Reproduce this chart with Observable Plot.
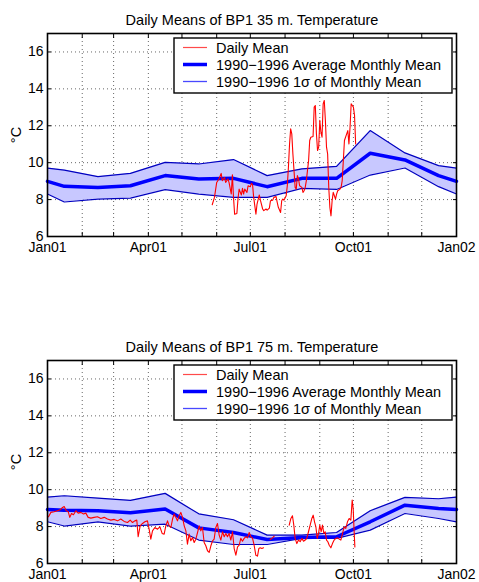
<!DOCTYPE html>
<html><head><meta charset="utf-8">
<script src="https://cdn.jsdelivr.net/npm/d3@7"></script>
<script src="https://cdn.jsdelivr.net/npm/@observablehq/plot@0.6"></script>
<style>
body{margin:0;background:#fff;font-family:"Liberation Sans",Arial,sans-serif;}
#wrap{width:479px;height:582px;}
svg{display:block}
</style></head><body><div id="wrap"></div>
<script>
const titles = ["Daily Means of BP1 35 m. Temperature", "Daily Means of BP1 75 m. Temperature"];
const yLabel = "°C";
const legendLabels = ["Daily Mean", "1990\u22121996 Average Monthly Mean", "1990\u22121996 1\u03c3 of Monthly Mean"];
const xLabelDates = ["2001-01-01", "2001-04-01", "2001-07-01", "2001-10-01", "2002-01-01"];
const xLabelTexts = ["Jan01", "Apr01", "Jul01", "Oct01", "Jan02"];
const yTicks = [6, 8, 10, 12, 14, 16];

// climatology nodes: Jan01, mid-month Jan..Dec, Jan02
const climDates = ["2001-01-01","2001-01-16","2001-02-15","2001-03-16","2001-04-16","2001-05-16","2001-06-16",
  "2001-07-16","2001-08-16","2001-09-16","2001-10-16","2001-11-16","2001-12-16","2002-01-01"];
const mean35  = [8.99, 8.72, 8.66, 8.75, 9.30, 9.12, 9.15, 8.70, 9.15, 9.15, 10.51, 10.15, 9.30, 8.99];
const upper35 = [9.71, 9.60, 9.24, 9.42, 10.02, 9.93, 10.17, 9.30, 9.66, 9.80, 11.74, 10.53, 9.84, 9.71];
const lower35 = [8.30, 7.87, 8.03, 8.08, 8.54, 8.30, 8.12, 8.12, 8.61, 8.55, 9.33, 9.71, 8.70, 8.30];
const mean75  = [8.93, 8.89, 8.86, 8.75, 8.95, 7.93, 7.68, 7.30, 7.41, 7.45, 8.26, 9.16, 8.98, 8.93];
const upper75 = [9.60, 9.67, 9.54, 9.42, 9.80, 8.69, 8.37, 7.54, 7.54, 7.68, 8.86, 9.58, 9.51, 9.60];
const lower75 = [8.26, 8.03, 8.26, 8.03, 8.13, 7.27, 7.03, 7.03, 7.36, 7.36, 7.81, 8.71, 8.44, 8.26];

// daily means: [day of year (0 = Jan01), temperature]
const daily35 = [
 [147,7.72],[149,8.12],[151,8.93],[153,9.12],[155,9.42],[156,9.03],[158,9.20],[159,8.93],[161,9.12],[162,8.93],
 [164,8.30],[165,9.35],[166,8.12],[167,7.21],[169,7.25],[170,8.03],[171,8.57],[173,8.25],[174,8.61],[175,8.30],
 [176,8.57],[178,8.39],[179,8.75],[181,8.70],[182,8.88],[183,8.81],[184,8.12],[186,7.21],[187,7.76],[189,8.25],
 [190,7.97],[192,7.49],[193,7.40],[195,7.49],[196,7.43],[198,7.54],[199,7.94],[201,7.97],[202,8.12],[204,8.16],
 [205,7.85],[206,7.58],[208,7.30],[209,7.94],[210,8.03],[211,7.97],[213,8.21],[214,8.75],[215,9.75],[216,11.00],
 [217,11.83],[218,11.56],[219,10.47],[221,8.66],[222,8.57],[223,9.30],[224,9.12],[225,8.75],[227,8.66],[228,8.39],
 [229,8.48],[230,8.66],[231,9.03],[233,10.11],[234,11.20],[235,11.38],[237,11.42],[238,13.01],[239,13.10],[240,11.56],
 [241,10.66],[242,10.84],[243,12.29],[244,11.65],[245,11.38],[246,13.19],[247,13.37],[248,12.29],[249,10.84],[250,10.47],
 [251,8.66],[252,7.58],[253,7.12],[254,7.94],[255,8.39],[257,8.03],[258,8.30],[259,8.48],[261,8.57],[262,8.66],
 [263,9.03],[264,10.11],[265,11.20],[267,11.56],[268,11.74],[269,11.02],[270,11.92],[271,13.19],[273,13.01],[274,12.56],
 [275,11.02]
];
const daily75 = [
 [0.9,8.53],[3.0,8.77],[5.9,8.80],[8.9,8.86],[11.3,8.91],[13.4,9.04],[14.9,9.09],[16.7,8.86],[18.4,8.82],[19.9,8.50],
 [21.4,8.71],[23.2,8.64],[25.3,8.86],[27.4,8.73],[29.7,8.77],[32.1,8.68],[34.2,8.73],[36.3,8.50],[38.7,8.46],[41.6,8.50],
 [44.6,8.53],[47.6,8.44],[50.6,8.50],[53.5,8.41],[56.5,8.35],[59.5,8.39],[62.5,8.31],[65.4,8.41],[68.4,8.28],[71.4,8.22],
 [73.8,8.35],[75.9,8.22],[77.9,8.31],[79.7,8.35],[80.9,7.45],[82.7,8.04],[84.8,8.17],[86.9,8.26],[89.2,8.31],[90.7,7.86],
 [92.2,7.32],[93.7,7.77],[95.8,7.95],[98.2,7.86],[100.3,7.99],[102.3,7.63],[104.1,7.59],[105.6,8.04],[107.1,8.31],[108.6,8.04],
 [110.1,7.95],[111.6,8.41],[113.0,8.68],[114.5,8.50],[116.0,8.31],[117.5,8.59],[119.0,8.77],[120.5,8.50],[122.0,8.04],[123.5,7.77],
 [124.9,7.05],[126.4,7.59],[127.9,7.23],[129.4,7.41],[130.9,7.14],[132.4,7.32],[133.9,7.68],[135.4,8.04],[136.8,7.77],[138.3,7.95],
 [139.8,7.14],[141.3,6.96],[142.8,6.69],[144.3,6.60],[145.8,6.96],[147.3,7.23],[148.7,7.32],[150.2,7.95],[151.7,8.17],[153.2,7.54],
 [154.7,7.27],[156.2,7.72],[157.7,7.45],[159.2,7.63],[160.6,7.45],[162.1,7.63],[163.6,7.27],[165.1,7.72],[166.6,6.81],[168.1,6.45],
 [169.6,6.90],[171.1,6.99],[172.5,7.36],[174.0,7.21],[175.5,7.36],[177.0,7.45],[178.5,7.39],[180.0,7.68],[181.5,7.45],[183.0,7.36],
 [184.4,6.99],[185.9,6.45],[187.4,6.40],[188.6,6.81],[189.8,6.85],[191.3,6.81],[192.8,6.85],[195,null],
 [198.7,7.30],[200.8,7.39],[202.3,7.48],[209,null],
 [215.7,8.08],[217.2,8.44],[218.6,8.59],[219.8,8.08],[221.0,7.36],[222.5,7.08],[224.0,7.27],[225.5,7.18],[227.0,7.36],[228.5,7.21],
 [230.0,7.27],[231.4,7.36],[232.9,7.72],[234.4,8.08],[235.9,8.44],[237.1,8.62],[238.3,8.26],[239.5,7.99],[240.7,7.36],[241.9,7.63],
 [243.0,8.08],[244.2,7.72],[245.4,8.08],[246.6,7.63],[247.8,7.72],[249.0,7.27],[250.2,7.18],[251.4,6.99],[252.9,6.85],[254.3,7.08],
 [255.8,7.27],[257.3,7.36],[258.8,7.39],[260.3,7.32],[261.8,7.27],[263.3,7.63],[264.8,7.99],[266.2,7.90],[267.7,8.26],[269.2,8.44],
 [270.7,8.35],[271.9,9.44],[272.8,8.98],[273.4,8.08],[274.3,6.90]
];

const FONT = '"Liberation Sans", Arial, Helvetica, sans-serif';
const origin = Date.UTC(2001, 0, 1);
const months = d3.utcMonth.range(new Date(origin), new Date(Date.UTC(2002, 0, 2)));
const xLabelTicks = xLabelDates.map(d => new Date(d));
const xLabelFormat = d => xLabelTexts[xLabelTicks.findIndex(t => +t === +d)];

function panel(title, mean, upper, lower, daily, mt, mb) {
  const clim = climDates.map((d, i) => ({date: new Date(d), mean: mean[i], upper: upper[i], lower: lower[i]}));
  const days = daily.map(([d, t]) => ({date: new Date(origin + d * 864e5), t}));
  const plot = Plot.plot({
    width: 479, height: 291,
    marginLeft: 47, marginRight: 23, marginTop: mt, marginBottom: mb,
    style: {fontFamily: FONT, fontSize: "14px", color: "#000", background: "#fff", overflow: "visible"},
    x: {type: "utc", domain: [new Date("2001-01-01"), new Date("2002-01-01")]},
    y: {domain: [6, 17]},
    marks: [
      Plot.gridX(months, {stroke: "#000", strokeOpacity: 0.6, strokeDasharray: "1,3"}),
      Plot.gridY(yTicks, {stroke: "#000", strokeOpacity: 0.6, strokeDasharray: "1,3"}),
      Plot.areaY(clim, {x: "date", y1: "lower", y2: "upper", fill: "#c8c8ff"}),
      Plot.lineY(clim, {x: "date", y: "upper", stroke: "#0000c0", strokeWidth: 1.2}),
      Plot.lineY(clim, {x: "date", y: "lower", stroke: "#0000c0", strokeWidth: 1.2}),
      Plot.lineY(clim, {x: "date", y: "mean", stroke: "#0000ff", strokeWidth: 3.5}),
      Plot.lineY(days, {x: "date", y: "t", stroke: "#ff0000", strokeWidth: 1.1}),
      Plot.axisX(months, {anchor: "bottom", tickSize: -4, tickFormat: () => "", label: null}),
      Plot.axisX(months, {anchor: "top", tickSize: -4, tickFormat: () => "", label: null}),
      Plot.axisY(yTicks, {anchor: "left", tickSize: -4, tickFormat: () => "", label: null}),
      Plot.axisY(yTicks, {anchor: "right", tickSize: -4, tickFormat: () => "", label: null}),
      Plot.axisX(xLabelTicks, {anchor: "bottom", tickSize: 0, tickPadding: 6, tickFormat: xLabelFormat, label: null, fontSize: 14}),
      Plot.axisY(yTicks, {anchor: "left", tickSize: 0, tickPadding: 4, label: null, fontSize: 14}),
      Plot.frame({stroke: "#000", strokeWidth: 1.6}),
      Plot.text([title], {frameAnchor: "top", lineAnchor: "bottom", dy: -9, fontSize: 14.5}),
      Plot.text([yLabel], {frameAnchor: "left", rotate: -90, dx: -31, fontSize: 14.5, textAnchor: "middle"})
    ]
  });
  // legend box
  const svg = d3.select(plot);
  const g = svg.append("g").attr("font-family", FONT).attr("font-size", 14.5).attr("text-anchor", "start");
  const bx = 174, by = mt + 5, bw = 278, bh = 55;
  g.append("rect").attr("x", bx).attr("y", by).attr("width", bw).attr("height", bh)
    .attr("fill", "#fff").attr("stroke", "#000").attr("stroke-width", 1.4);
  const styles = [{c: "#ff4a4a", w: 1.2}, {c: "#0000ff", w: 3.5}, {c: "#4848ff", w: 1.3}];
  legendLabels.forEach((lab, i) => {
    const y = by + 9.5 + i * 17;
    g.append("line").attr("x1", bx + 9).attr("x2", bx + 33).attr("y1", y).attr("y2", y)
      .attr("stroke", styles[i].c).attr("stroke-width", styles[i].w);
    g.append("text").attr("x", bx + 42).attr("y", y).attr("dy", "0.36em")
      .attr("text-anchor", "start").attr("fill", "#000").text(lab);
  });
  return plot;
}

const wrap = document.getElementById("wrap");
wrap.appendChild(panel(titles[0], mean35, upper35, lower35, daily35, 33, 55));
wrap.appendChild(panel(titles[1], mean75, upper75, lower75, daily75, 69, 19));
</script>
</body></html>
